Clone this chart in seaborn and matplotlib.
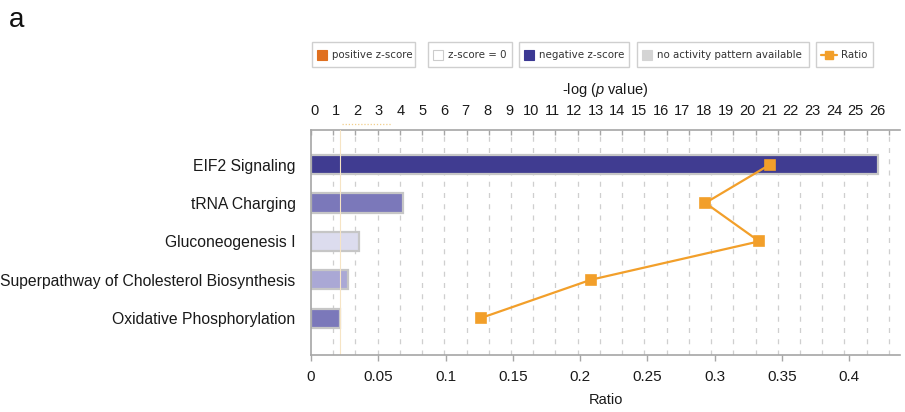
import matplotlib
matplotlib.use("Agg")
import matplotlib.pyplot as plt
import pandas as pd
import seaborn as sns
from matplotlib.patches import Rectangle
from matplotlib.lines import Line2D

# Canonical pathways, enrichment and overlap ratio
pathways = [
    "EIF2 Signaling",
    "tRNA Charging",
    "Gluconeogenesis I",
    "Superpathway of Cholesterol Biosynthesis",
    "Oxidative Phosphorylation",
]
neg_log_p = [25.5, 4.15, 2.15, 1.65, 1.3]
ratio = [0.341, 0.293, 0.333, 0.208, 0.126]
bar_colors = ["#403c91", "#7b78ba", "#dcdcee", "#aaa8d5", "#7b78ba"]
logp_ticks = list(range(0, 27))
ratio_ticks = [0, 0.05, 0.1, 0.15, 0.2, 0.25, 0.3, 0.35, 0.4]
ratio_tick_labels = ["0", "0.05", "0.1", "0.15", "0.2", "0.25", "0.3", "0.35", "0.4"]
threshold = 1.3

legend_labels = ["positive z-score", "z-score = 0", "negative z-score",
                 "no activity pattern available", "Ratio"]
legend_colors = ["#e07020", "#ffffff", "#3b3893", "#d4d4d4", "#f29f2a"]

df = pd.DataFrame({"pathway": pathways, "logp": neg_log_p, "ratio": ratio})

sns.set_theme(style="white")
plt.rcParams["font.family"] = ["Liberation Sans", "DejaVu Sans"]
plt.rcParams["mathtext.fontset"] = "custom"
plt.rcParams["mathtext.it"] = "Liberation Sans:italic"
plt.rcParams["mathtext.rm"] = "Liberation Sans"

W, H = 905, 412
fig = plt.figure(figsize=(W / 100, H / 100), dpi=100)


def fx(px):
    return px / W


def fy(py):
    return 1 - py / H


ax = fig.add_axes([fx(311), fy(355), fx(900) - fx(311), fy(130) - fy(355)])
ax2 = ax.twiny()

axis_gray = "#a6a6a6"
line_orange = "#f29f2a"
text_col = "#1a1a1a"

# dashed guides at each -log(p) unit
for v in logp_ticks[1:]:
    ax.axvline(v, color="#cfcfcf", lw=0.9, ls=(0, (4, 5)), zorder=0)

sns.barplot(data=df, x="logp", y="pathway", hue="pathway", palette=bar_colors,
            orient="h", width=0.5, saturation=1, edgecolor="#c6c6c6",
            linewidth=1.6, legend=False, ax=ax, zorder=2)
ax.axvline(threshold, color="#f6e4c4", lw=0.8, zorder=3)
# faint dotted threshold marker above the plot
ax.plot([1.4, 3.6], [1.027, 1.027], transform=ax.get_xaxis_transform(),
        color="#f2cf8a", lw=0.9, ls=(0, (1, 1.5)), clip_on=False, zorder=3)

sns.pointplot(data=df, x="ratio", y="pathway", orient="h", color=line_orange,
              markers="s", markersize=6.8, linewidth=1.6, ax=ax2)

# top axis: -log(p); tick marks on the integers, labels laid out slightly tighter
ax.set_xlim(0, 26.5)
ax.xaxis.tick_top()
ax.xaxis.set_label_position("top")
ax.set_xticks(logp_ticks, minor=True)
ax.set_xticks([0.135 + 0.975 * t for t in logp_ticks])
ax.set_xticklabels([str(t) for t in logp_ticks])
ax.set_xlabel(r"-log ($\mathit{p}$ value)", fontsize=10.5, labelpad=7, color=text_col)
ax.tick_params(axis="x", which="major", top=True, bottom=False, length=0,
               labelsize=10.5, pad=9, labelcolor=text_col)
ax.tick_params(axis="x", which="minor", top=True, bottom=False, direction="in",
               length=3.5, width=1, color=axis_gray)
ax.tick_params(axis="y", length=0, pad=11, labelsize=11.3, labelcolor=text_col)
ax.set_ylabel("")

# bottom axis: ratio
ax2.set_xlim(0, 0.4376)
ax2.xaxis.tick_bottom()
ax2.xaxis.set_label_position("bottom")
ax2.set_xticks(ratio_ticks)
ax2.set_xticklabels(ratio_tick_labels)
ax2.set_xlabel("Ratio", fontsize=10.5, labelpad=6, color=text_col)
ax2.set_ylabel("")
ax2.tick_params(axis="x", which="both", top=False, bottom=True, direction="out",
                length=4, width=1, color=axis_gray, labelsize=11, pad=7,
                labelcolor=text_col)
ax2.grid(False)
ax.grid(False)

ax.set_ylim(4.96, -0.9)

for name, sp in ax.spines.items():
    sp.set_visible(name in ("top", "left"))
    sp.set_color(axis_gray)
    sp.set_linewidth(1.2)
for name, sp in ax2.spines.items():
    sp.set_visible(name == "bottom")
    sp.set_color(axis_gray)
    sp.set_linewidth(1.2)

# legend row of boxed entries
boxes = [(312, 415), (428, 512), (519, 629), (637, 809), (816, 873)]
box_top, box_bot = 42, 67
for (x0, x1), label, col in zip(boxes, legend_labels, legend_colors):
    fig.add_artist(Rectangle((fx(x0), fy(box_bot)), fx(x1) - fx(x0), fy(box_top) - fy(box_bot),
                             transform=fig.transFigure, facecolor="white",
                             edgecolor="#cfcfcf", lw=1))
    cy = (box_top + box_bot) / 2
    if label == "Ratio":
        fig.add_artist(Line2D([fx(x0 + 5), fx(x0 + 21)], [fy(cy), fy(cy)],
                              transform=fig.transFigure, color=col, lw=1.6))
        fig.add_artist(Line2D([fx(x0 + 13)], [fy(cy)], transform=fig.transFigure,
                              color=col, marker="s", markersize=6, lw=0))
        tx = x0 + 25
    else:
        fig.add_artist(Rectangle((fx(x0 + 5), fy(cy + 5)), fx(10), fy(cy - 5) - fy(cy + 5),
                                 transform=fig.transFigure, facecolor=col,
                                 edgecolor="#cccccc" if col == "#ffffff" else col, lw=0.8))
        tx = x0 + 20
    fig.text(fx(tx), fy(cy), label, fontsize=7.35, family="DejaVu Sans",
             color="#333333", va="center", ha="left")

fig.text(fx(9), fy(20), "a", fontsize=20, va="center", ha="left", color="#111111")

fig.savefig("out.png", dpi=100)
